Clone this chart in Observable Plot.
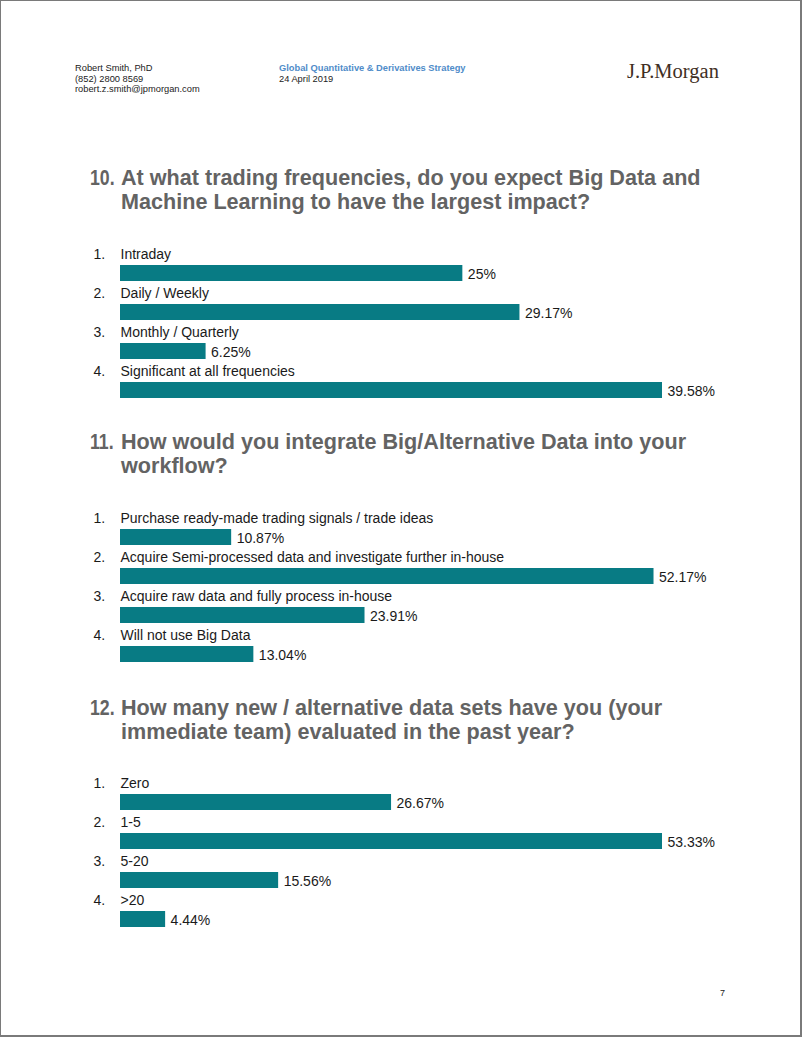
<!DOCTYPE html>
<html>
<head>
<meta charset="utf-8">
<script src="https://cdn.jsdelivr.net/npm/d3@7"></script>
<script src="https://cdn.jsdelivr.net/npm/@observablehq/plot@0.6"></script>
<style>
  html, body { margin: 0; padding: 0; background: #fff; }
  #page { position: relative; width: 802px; height: 1037px;
          font-family: "Liberation Sans", Arial, sans-serif; overflow: hidden; }
  #frame { position: absolute; left: 0; top: 0; width: 802px; height: 1037px; box-sizing: border-box;
           border: 1px solid #7a7a7a; border-right-width: 2px; border-bottom-width: 2px; pointer-events: none; }
  .abs { position: absolute; }
  .hdr { font-size: 9.3px; line-height: 10.5px; color: #222; }
  .hdr-blue { color: #4f8cc9; font-weight: bold; }
  .logo { font-family: "Liberation Serif", "Times New Roman", serif; font-size: 20.5px; color: #3f2f24; letter-spacing: 0px; }
  .qtitle { font-size: 21.6px; font-weight: bold; color: #636363; line-height: 23.5px;
            padding-left: 31px; text-indent: -31px; width: 640px; }
  .qtitle .num { display: inline-block; width: 31px; text-indent: 0; }
  .qtitle .num span { display: inline-block; transform: scaleX(0.82); transform-origin: left center; }
  .pg { font-size: 9px; color: #222; }
  svg { overflow: visible; }
</style>
</head>
<body>
<div id="page">
  <div class="abs hdr" style="left:75px; top:63px;">Robert Smith, PhD<br>(852) 2800 8569<br>robert.z.smith@jpmorgan.com</div>
  <div class="abs hdr" style="left:279px; top:63px;"><span class="hdr-blue">Global Quantitative &amp; Derivatives Strategy</span><br>24 April 2019</div>
  <div class="abs logo" style="left:627px; top:60px;">J.P.Morgan</div>

  <div class="abs qtitle" style="left:90px; top:166px;"><span class="num"><span>10.</span></span>At what trading frequencies, do you expect Big Data and Machine Learning to have the largest impact?</div>
  <div class="abs" id="c1" style="left:0; top:243px;"></div>

  <div class="abs qtitle" style="left:90px; top:430px;"><span class="num"><span>11.</span></span>How would you integrate Big/Alternative Data into your workflow?</div>
  <div class="abs" id="c2" style="left:0; top:507px;"></div>

  <div class="abs qtitle" style="left:90px; top:696px;"><span class="num"><span>12.</span></span>How many new / alternative data sets have you (your immediate team) evaluated in the past year?</div>
  <div class="abs" id="c3" style="left:0; top:772px;"></div>

  <div class="abs pg" style="left:720px; top:988px;">7</div>
  <div id="frame"></div>
</div>
<script>
// Question 10
const q10Labels = ["Intraday", "Daily / Weekly", "Monthly / Quarterly", "Significant at all frequencies"];
const q10Values = [25, 29.17, 6.25, 39.58];
const q10Text = ["25%", "29.17%", "6.25%", "39.58%"];

// Question 11
const q11Labels = ["Purchase ready-made trading signals / trade ideas",
                   "Acquire Semi-processed data and investigate further in-house",
                   "Acquire raw data and fully process in-house",
                   "Will not use Big Data"];
const q11Values = [10.87, 52.17, 23.91, 13.04];
const q11Text = ["10.87%", "52.17%", "23.91%", "13.04%"];

// Question 12
const q12Labels = ["Zero", "1-5", "5-20", ">20"];
const q12Values = [26.67, 53.33, 15.56, 4.44];
const q12Text = ["26.67%", "53.33%", "15.56%", "4.44%"];

const barColor = "#087b84";

function chart(labels, values, texts, xMax) {
  const data = labels.map((l, i) => ({num: (i + 1) + ".", label: l, value: values[i], text: texts[i]}));
  const bandH = 39;
  return Plot.plot({
    width: 802,
    height: bandH * labels.length + 4,
    marginTop: 0, marginBottom: 4, marginLeft: 0, marginRight: 0,
    x: {domain: [0, xMax], range: [120, 662], axis: null},
    y: {type: "band", domain: labels, range: [0, bandH * labels.length], padding: 0, axis: null},
    style: {fontFamily: "'Liberation Sans', Arial, sans-serif", background: "transparent"},
    marks: [
      Plot.barX(data, {x1: 0, x2: "value", y: "label", fill: barColor, insetTop: 22, insetBottom: 1}),
      Plot.text(data, {x: 0, y: "label", text: "num", dx: -27, dy: -8.5, textAnchor: "start", fontSize: 14, fill: "#1a1a1a"}),
      Plot.text(data, {x: 0, y: "label", text: "label", dy: -8.5, textAnchor: "start", fontSize: 14, fill: "#1a1a1a"}),
      Plot.text(data, {x: "value", y: "label", text: "text", dx: 5, dy: 11.5, textAnchor: "start", fontSize: 14, fill: "#1a1a1a"})
    ]
  });
}

document.getElementById("c1").appendChild(chart(q10Labels, q10Values, q10Text, 39.58));
document.getElementById("c2").appendChild(chart(q11Labels, q11Values, q11Text, 53.0));
document.getElementById("c3").appendChild(chart(q12Labels, q12Values, q12Text, 53.33));
</script>
</body>
</html>
